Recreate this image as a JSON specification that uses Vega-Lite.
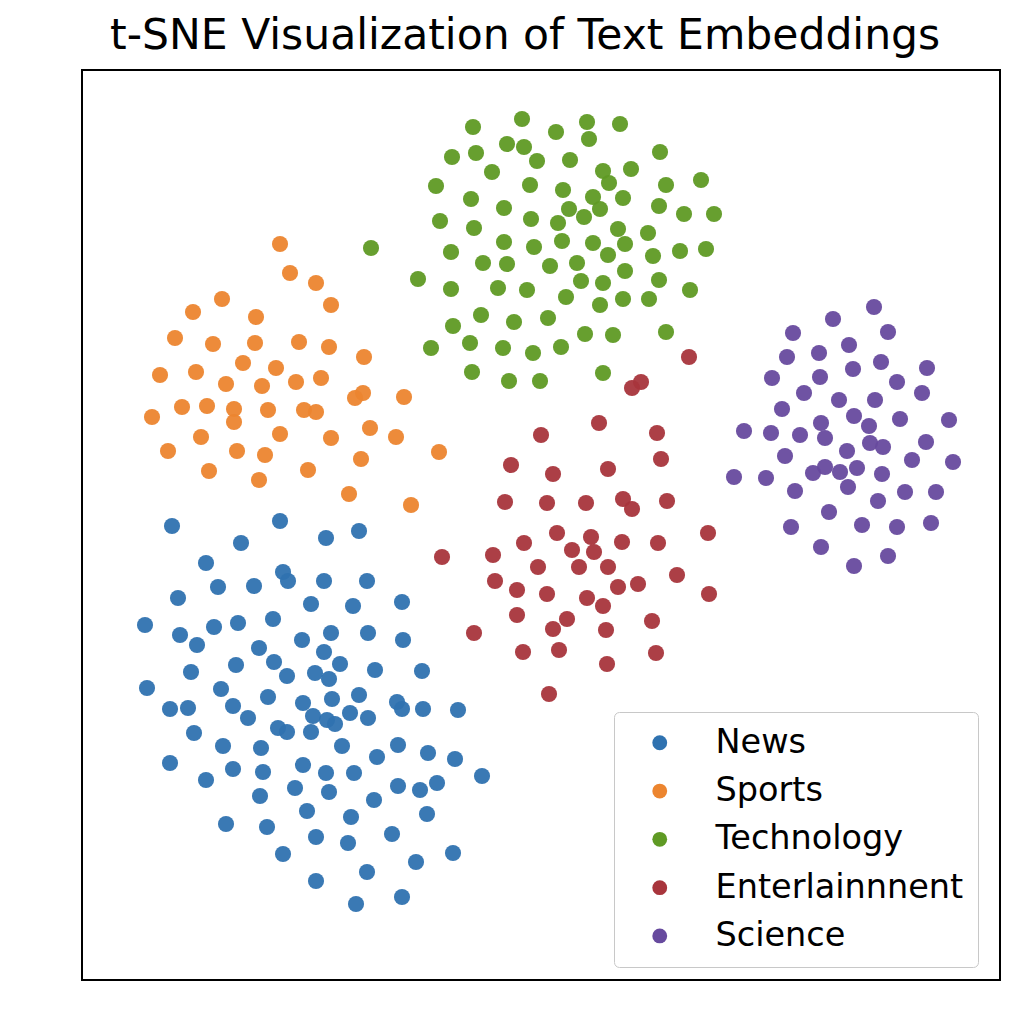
{
  "$schema": "https://vega.github.io/schema/vega-lite/v6.json",
  "width": 918,
  "height": 910,
  "autosize": {"type": "none"},
  "padding": {"left": 82, "top": 70, "right": 24, "bottom": 44},
  "background": "white",
  "title": {
    "text": "t-SNE Visualization of Text Embeddings",
    "font": "DejaVu Sans",
    "fontSize": 42.5,
    "fontWeight": "normal",
    "color": "black",
    "anchor": "start",
    "dx": 28,
    "dy": 41,
    "baseline": "alphabetic",
    "offset": 20
  },
  "config": {
    "view": {"stroke": "black", "strokeWidth": 2},
    "font": "DejaVu Sans"
  },
  "data": {
    "values": [
      {"c":"News","x":172,"y":526},{"c":"News","x":280,"y":521},{"c":"News","x":241,"y":543},{"c":"News","x":326,"y":538},{"c":"News","x":359,"y":531},
      {"c":"News","x":206,"y":563},{"c":"News","x":283,"y":572},{"c":"News","x":288,"y":581},{"c":"News","x":218,"y":587},{"c":"News","x":254,"y":586},
      {"c":"News","x":324,"y":581},{"c":"News","x":367,"y":581},{"c":"News","x":178,"y":598},{"c":"News","x":311,"y":604},{"c":"News","x":353,"y":606},
      {"c":"News","x":402,"y":602},{"c":"News","x":145,"y":625},{"c":"News","x":180,"y":635},{"c":"News","x":214,"y":627},{"c":"News","x":238,"y":623},
      {"c":"News","x":273,"y":619},{"c":"News","x":197,"y":645},{"c":"News","x":259,"y":648},{"c":"News","x":302,"y":640},{"c":"News","x":331,"y":633},
      {"c":"News","x":368,"y":633},{"c":"News","x":403,"y":640},{"c":"News","x":236,"y":665},{"c":"News","x":274,"y":662},{"c":"News","x":191,"y":672},
      {"c":"News","x":287,"y":676},{"c":"News","x":315,"y":673},{"c":"News","x":329,"y":679},{"c":"News","x":324,"y":652},{"c":"News","x":340,"y":664},
      {"c":"News","x":375,"y":670},{"c":"News","x":422,"y":671},{"c":"News","x":147,"y":688},{"c":"News","x":221,"y":689},{"c":"News","x":268,"y":697},
      {"c":"News","x":170,"y":709},{"c":"News","x":188,"y":708},{"c":"News","x":233,"y":706},{"c":"News","x":248,"y":718},{"c":"News","x":303,"y":703},
      {"c":"News","x":332,"y":699},{"c":"News","x":359,"y":695},{"c":"News","x":350,"y":713},{"c":"News","x":313,"y":716},{"c":"News","x":327,"y":720},
      {"c":"News","x":368,"y":718},{"c":"News","x":397,"y":702},{"c":"News","x":402,"y":709},{"c":"News","x":423,"y":709},{"c":"News","x":458,"y":710},
      {"c":"News","x":335,"y":724},{"c":"News","x":194,"y":733},{"c":"News","x":278,"y":728},{"c":"News","x":287,"y":732},{"c":"News","x":311,"y":732},
      {"c":"News","x":223,"y":746},{"c":"News","x":261,"y":748},{"c":"News","x":342,"y":746},{"c":"News","x":398,"y":745},{"c":"News","x":377,"y":757},
      {"c":"News","x":428,"y":753},{"c":"News","x":455,"y":759},{"c":"News","x":170,"y":763},{"c":"News","x":206,"y":780},{"c":"News","x":233,"y":769},
      {"c":"News","x":263,"y":772},{"c":"News","x":303,"y":765},{"c":"News","x":326,"y":773},{"c":"News","x":354,"y":773},{"c":"News","x":295,"y":788},
      {"c":"News","x":329,"y":792},{"c":"News","x":398,"y":786},{"c":"News","x":420,"y":790},{"c":"News","x":437,"y":783},{"c":"News","x":482,"y":776},
      {"c":"News","x":260,"y":796},{"c":"News","x":374,"y":800},{"c":"News","x":307,"y":811},{"c":"News","x":351,"y":817},{"c":"News","x":427,"y":814},
      {"c":"News","x":226,"y":824},{"c":"News","x":267,"y":827},{"c":"News","x":316,"y":837},{"c":"News","x":348,"y":843},{"c":"News","x":392,"y":834},
      {"c":"News","x":283,"y":854},{"c":"News","x":453,"y":853},{"c":"News","x":416,"y":862},{"c":"News","x":367,"y":872},{"c":"News","x":316,"y":881},
      {"c":"News","x":356,"y":904},{"c":"News","x":402,"y":897},

      {"c":"Sports","x":280,"y":244},{"c":"Sports","x":290,"y":273},{"c":"Sports","x":316,"y":283},{"c":"Sports","x":331,"y":305},{"c":"Sports","x":222,"y":299},
      {"c":"Sports","x":193,"y":312},{"c":"Sports","x":256,"y":317},{"c":"Sports","x":175,"y":338},{"c":"Sports","x":213,"y":344},{"c":"Sports","x":255,"y":343},
      {"c":"Sports","x":299,"y":342},{"c":"Sports","x":329,"y":347},{"c":"Sports","x":364,"y":357},{"c":"Sports","x":243,"y":363},{"c":"Sports","x":276,"y":368},
      {"c":"Sports","x":160,"y":375},{"c":"Sports","x":196,"y":372},{"c":"Sports","x":226,"y":384},{"c":"Sports","x":262,"y":386},{"c":"Sports","x":296,"y":382},
      {"c":"Sports","x":321,"y":378},{"c":"Sports","x":363,"y":393},{"c":"Sports","x":355,"y":398},{"c":"Sports","x":404,"y":397},{"c":"Sports","x":182,"y":407},
      {"c":"Sports","x":207,"y":406},{"c":"Sports","x":234,"y":409},{"c":"Sports","x":234,"y":422},{"c":"Sports","x":268,"y":410},{"c":"Sports","x":304,"y":410},
      {"c":"Sports","x":316,"y":412},{"c":"Sports","x":152,"y":417},{"c":"Sports","x":201,"y":437},{"c":"Sports","x":280,"y":434},{"c":"Sports","x":370,"y":428},
      {"c":"Sports","x":331,"y":438},{"c":"Sports","x":396,"y":437},{"c":"Sports","x":168,"y":451},{"c":"Sports","x":237,"y":451},{"c":"Sports","x":265,"y":455},
      {"c":"Sports","x":361,"y":459},{"c":"Sports","x":439,"y":452},{"c":"Sports","x":209,"y":471},{"c":"Sports","x":308,"y":470},{"c":"Sports","x":259,"y":480},
      {"c":"Sports","x":349,"y":494},{"c":"Sports","x":411,"y":505},

      {"c":"Technology","x":473,"y":127},{"c":"Technology","x":522,"y":119},{"c":"Technology","x":587,"y":122},{"c":"Technology","x":620,"y":124},{"c":"Technology","x":556,"y":132},
      {"c":"Technology","x":589,"y":139},{"c":"Technology","x":507,"y":144},{"c":"Technology","x":524,"y":147},{"c":"Technology","x":452,"y":157},{"c":"Technology","x":476,"y":153},
      {"c":"Technology","x":537,"y":161},{"c":"Technology","x":570,"y":160},{"c":"Technology","x":660,"y":152},{"c":"Technology","x":492,"y":172},{"c":"Technology","x":631,"y":169},
      {"c":"Technology","x":603,"y":171},{"c":"Technology","x":436,"y":186},{"c":"Technology","x":530,"y":185},{"c":"Technology","x":563,"y":190},{"c":"Technology","x":609,"y":183},
      {"c":"Technology","x":666,"y":185},{"c":"Technology","x":701,"y":180},{"c":"Technology","x":471,"y":199},{"c":"Technology","x":593,"y":197},{"c":"Technology","x":623,"y":198},
      {"c":"Technology","x":504,"y":208},{"c":"Technology","x":569,"y":209},{"c":"Technology","x":600,"y":209},{"c":"Technology","x":659,"y":206},{"c":"Technology","x":684,"y":214},
      {"c":"Technology","x":714,"y":214},{"c":"Technology","x":440,"y":221},{"c":"Technology","x":474,"y":228},{"c":"Technology","x":531,"y":219},{"c":"Technology","x":558,"y":223},
      {"c":"Technology","x":584,"y":217},{"c":"Technology","x":618,"y":229},{"c":"Technology","x":648,"y":233},{"c":"Technology","x":451,"y":252},{"c":"Technology","x":504,"y":242},
      {"c":"Technology","x":534,"y":247},{"c":"Technology","x":562,"y":241},{"c":"Technology","x":593,"y":243},{"c":"Technology","x":608,"y":255},{"c":"Technology","x":625,"y":244},
      {"c":"Technology","x":653,"y":256},{"c":"Technology","x":680,"y":251},{"c":"Technology","x":706,"y":249},{"c":"Technology","x":483,"y":263},{"c":"Technology","x":507,"y":264},
      {"c":"Technology","x":550,"y":266},{"c":"Technology","x":577,"y":263},{"c":"Technology","x":625,"y":271},{"c":"Technology","x":418,"y":279},{"c":"Technology","x":451,"y":289},
      {"c":"Technology","x":498,"y":288},{"c":"Technology","x":527,"y":290},{"c":"Technology","x":581,"y":281},{"c":"Technology","x":603,"y":283},{"c":"Technology","x":659,"y":280},
      {"c":"Technology","x":690,"y":290},{"c":"Technology","x":566,"y":297},{"c":"Technology","x":600,"y":305},{"c":"Technology","x":623,"y":299},{"c":"Technology","x":649,"y":299},
      {"c":"Technology","x":481,"y":315},{"c":"Technology","x":514,"y":322},{"c":"Technology","x":548,"y":318},{"c":"Technology","x":453,"y":326},{"c":"Technology","x":585,"y":334},
      {"c":"Technology","x":613,"y":335},{"c":"Technology","x":666,"y":332},{"c":"Technology","x":431,"y":348},{"c":"Technology","x":470,"y":343},{"c":"Technology","x":503,"y":348},
      {"c":"Technology","x":533,"y":353},{"c":"Technology","x":561,"y":347},{"c":"Technology","x":472,"y":372},{"c":"Technology","x":509,"y":381},{"c":"Technology","x":540,"y":381},
      {"c":"Technology","x":603,"y":373},{"c":"Technology","x":371,"y":248},

      {"c":"Enterlainnnent","x":689,"y":357},{"c":"Enterlainnnent","x":641,"y":382},{"c":"Enterlainnnent","x":632,"y":388},{"c":"Enterlainnnent","x":599,"y":423},{"c":"Enterlainnnent","x":541,"y":435},
      {"c":"Enterlainnnent","x":657,"y":433},{"c":"Enterlainnnent","x":511,"y":465},{"c":"Enterlainnnent","x":553,"y":474},{"c":"Enterlainnnent","x":608,"y":469},{"c":"Enterlainnnent","x":661,"y":459},
      {"c":"Enterlainnnent","x":505,"y":502},{"c":"Enterlainnnent","x":547,"y":503},{"c":"Enterlainnnent","x":586,"y":503},{"c":"Enterlainnnent","x":623,"y":499},{"c":"Enterlainnnent","x":632,"y":509},
      {"c":"Enterlainnnent","x":667,"y":501},{"c":"Enterlainnnent","x":557,"y":533},{"c":"Enterlainnnent","x":591,"y":537},{"c":"Enterlainnnent","x":524,"y":543},{"c":"Enterlainnnent","x":572,"y":550},
      {"c":"Enterlainnnent","x":594,"y":552},{"c":"Enterlainnnent","x":622,"y":542},{"c":"Enterlainnnent","x":658,"y":543},{"c":"Enterlainnnent","x":708,"y":533},{"c":"Enterlainnnent","x":442,"y":557},
      {"c":"Enterlainnnent","x":493,"y":555},{"c":"Enterlainnnent","x":538,"y":567},{"c":"Enterlainnnent","x":579,"y":567},{"c":"Enterlainnnent","x":608,"y":567},{"c":"Enterlainnnent","x":495,"y":581},
      {"c":"Enterlainnnent","x":517,"y":590},{"c":"Enterlainnnent","x":547,"y":594},{"c":"Enterlainnnent","x":587,"y":598},{"c":"Enterlainnnent","x":603,"y":606},{"c":"Enterlainnnent","x":618,"y":587},
      {"c":"Enterlainnnent","x":638,"y":584},{"c":"Enterlainnnent","x":677,"y":575},{"c":"Enterlainnnent","x":709,"y":594},{"c":"Enterlainnnent","x":517,"y":615},{"c":"Enterlainnnent","x":567,"y":619},
      {"c":"Enterlainnnent","x":553,"y":629},{"c":"Enterlainnnent","x":606,"y":630},{"c":"Enterlainnnent","x":652,"y":621},{"c":"Enterlainnnent","x":474,"y":633},{"c":"Enterlainnnent","x":523,"y":652},
      {"c":"Enterlainnnent","x":559,"y":650},{"c":"Enterlainnnent","x":656,"y":653},{"c":"Enterlainnnent","x":607,"y":664},{"c":"Enterlainnnent","x":549,"y":694},

      {"c":"Science","x":874,"y":307},{"c":"Science","x":833,"y":319},{"c":"Science","x":888,"y":332},{"c":"Science","x":793,"y":333},{"c":"Science","x":849,"y":345},
      {"c":"Science","x":819,"y":353},{"c":"Science","x":787,"y":357},{"c":"Science","x":881,"y":362},{"c":"Science","x":927,"y":368},{"c":"Science","x":772,"y":378},
      {"c":"Science","x":820,"y":377},{"c":"Science","x":853,"y":369},{"c":"Science","x":897,"y":382},{"c":"Science","x":804,"y":393},{"c":"Science","x":922,"y":393},
      {"c":"Science","x":839,"y":400},{"c":"Science","x":875,"y":400},{"c":"Science","x":782,"y":409},{"c":"Science","x":854,"y":416},{"c":"Science","x":900,"y":419},
      {"c":"Science","x":949,"y":420},{"c":"Science","x":821,"y":423},{"c":"Science","x":869,"y":426},{"c":"Science","x":744,"y":431},{"c":"Science","x":771,"y":433},
      {"c":"Science","x":800,"y":435},{"c":"Science","x":825,"y":438},{"c":"Science","x":870,"y":443},{"c":"Science","x":883,"y":447},{"c":"Science","x":926,"y":442},
      {"c":"Science","x":847,"y":451},{"c":"Science","x":785,"y":456},{"c":"Science","x":912,"y":460},{"c":"Science","x":953,"y":462},{"c":"Science","x":825,"y":467},
      {"c":"Science","x":813,"y":473},{"c":"Science","x":840,"y":472},{"c":"Science","x":857,"y":468},{"c":"Science","x":882,"y":474},{"c":"Science","x":734,"y":477},
      {"c":"Science","x":766,"y":478},{"c":"Science","x":795,"y":491},{"c":"Science","x":848,"y":487},{"c":"Science","x":905,"y":492},{"c":"Science","x":936,"y":492},
      {"c":"Science","x":878,"y":501},{"c":"Science","x":829,"y":512},{"c":"Science","x":791,"y":527},{"c":"Science","x":862,"y":525},{"c":"Science","x":897,"y":527},
      {"c":"Science","x":931,"y":523},{"c":"Science","x":821,"y":547},{"c":"Science","x":888,"y":556},{"c":"Science","x":854,"y":566}
    ]
  },
  "mark": {"type": "circle", "size": 260, "opacity": 0.95},
  "encoding": {
    "x": {"field": "x", "type": "quantitative", "scale": {"domain": [82, 1000], "nice": false, "zero": false}, "axis": null},
    "y": {"field": "y", "type": "quantitative", "scale": {"domain": [70, 980], "nice": false, "zero": false, "reverse": true}, "axis": null},
    "color": {
      "field": "c",
      "type": "nominal",
      "scale": {
        "domain": ["News", "Sports", "Technology", "Enterlainnnent", "Science"],
        "range": ["#2f72b0", "#ec852f", "#5f9a24", "#a8353c", "#674a9e"]
      },
      "legend": {
        "title": null,
        "orient": "none",
        "legendX": 532,
        "legendY": 642,
        "padding": 14,
        "symbolType": "circle",
        "symbolSize": 220,
        "symbolOffset": 15,
        "symbolOpacity": 1,
        "symbolStrokeWidth": 0,
        "labelFont": "DejaVu Sans",
        "labelFontSize": 33.5,
        "labelColor": "black",
        "labelOffset": 39,
        "labelLimit": 400,
        "rowPadding": 13.3,
        "fillColor": "white",
        "strokeColor": "#c8c8c8",
        "cornerRadius": 5
      }
    }
  }
}
